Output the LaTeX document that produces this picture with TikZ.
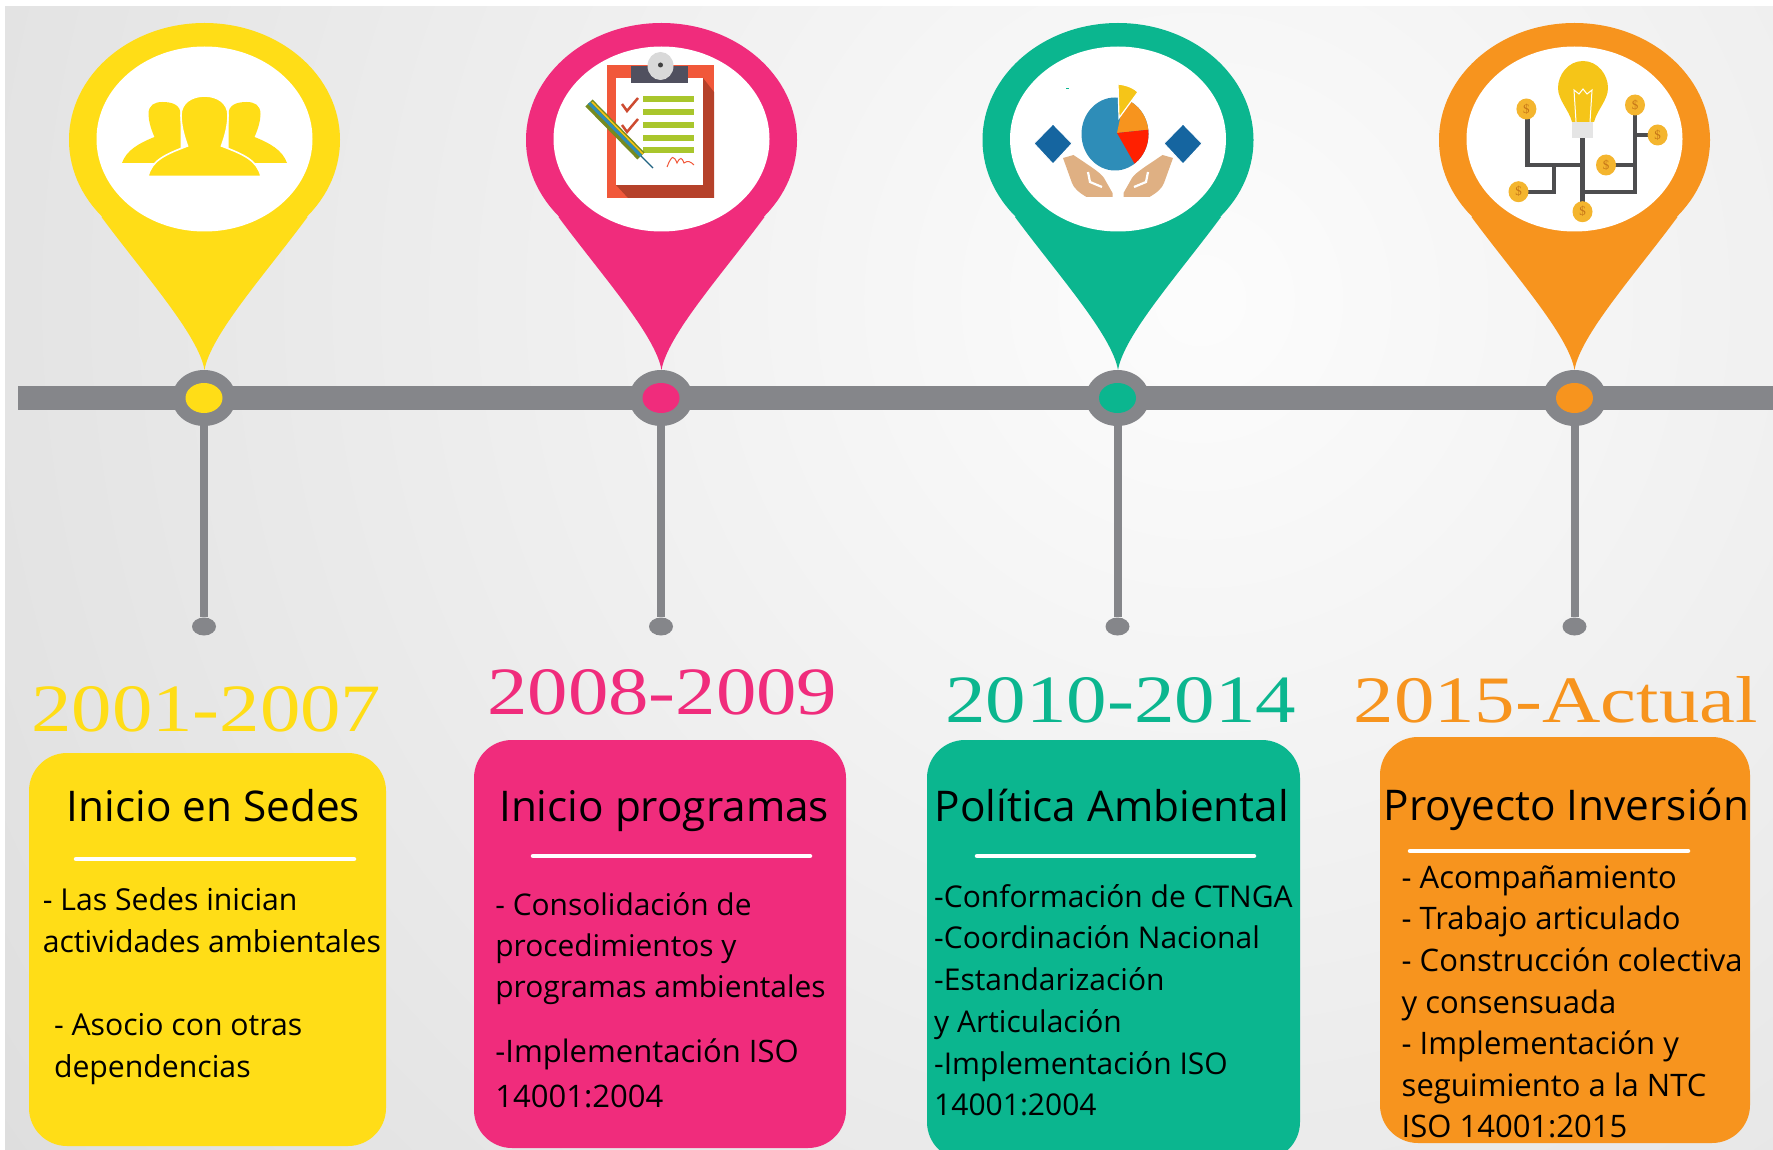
\documentclass[tikz,border=0pt]{standalone}
\usepackage{fontspec}
\usepackage{graphicx}
\usetikzlibrary{shapes.geometric}
\setmainfont{Open Sans}
\newfontfamily\bodyf{Open Sans}
\newfontfamily\yearf{Liberation Serif}
\definecolor{cy}{HTML}{FFDD17}
\definecolor{cp}{HTML}{F02C7C}
\definecolor{cg}{HTML}{0BB68F}
\definecolor{co}{HTML}{F7941E}
\definecolor{bar}{HTML}{85868A}
\definecolor{wire}{HTML}{4D4D4F}
\definecolor{coin}{HTML}{F4B52E}
\definecolor{boardc}{HTML}{F1583A}
\definecolor{boardd}{HTML}{B5412A}
\definecolor{clipc}{HTML}{50505F}
\definecolor{linec}{HTML}{A9C62C}
\definecolor{piec}{HTML}{2E8DB8}
\definecolor{diamc}{HTML}{1565A0}
\definecolor{handc}{HTML}{DFB083}
\definecolor{bulbc}{HTML}{F5C518}
\tikzset{
  hubnode/.style={ellipse,fill=bar,minimum width=64pt,minimum height=56pt,inner sep=0pt},
  dotnode/.style={ellipse,minimum width=37pt,minimum height=30pt,inner sep=0pt},
  endnode/.style={ellipse,fill=bar,minimum width=24pt,minimum height=18pt,inner sep=0pt},
  stem/.style={draw=bar,line width=8pt},
  cardbox/.style={rounded corners=38pt},
  sepline/.style={draw=white,line width=4.5pt,line cap=round},
  titletext/.style={anchor=base west,inner sep=0pt,font=\bodyf\fontsize{42.3}{42}\selectfont,text=black},
  bodytext/.style={anchor=north west,inner sep=0pt,align=left,text=black},
  yeartext/.style={anchor=south west,inner sep=0pt},
  coinmark/.style={ellipse,fill=coin,minimum width=20pt,minimum height=21pt,inner sep=0pt,text=co!80!black,font=\yearf\fontsize{13}{13}\selectfont}
}
\newcommand{\pinshape}[2]{%
  \begin{scope}[shift={(#1,0)}]
    \fill[#2] (0,140) ellipse [x radius=135.5pt,y radius=117pt];
    \fill[#2] (0,370) .. controls (-6,335) and (-60,275) .. (-103,217)
      -- (103,217) .. controls (60,275) and (6,335) .. (0,370) -- cycle;
    \fill[white] (0,139) ellipse [x radius=108pt,y radius=92.5pt];
  \end{scope}}
\newcommand{\bodyset}[2]{\bodyf\fontsize{#1}{#2}\selectfont}
\newcommand{\firstl}{\rule{0pt}{30pt}}
\begin{document}
\begin{tikzpicture}[x=1pt,y=-1pt]
\useasboundingbox (0,0) rectangle (1773,1150);
\fill[white] (0,0) rectangle (1773,1150);
\begin{scope}
  \clip (5,7) rectangle (1773,1150);
  \fill[black!13] (5,7) rectangle (1773,1150);
  \shade[inner color=black!1,outer color=black!13] (1200,300) circle [radius=1480pt];
\end{scope}

% timeline
\fill[bar] (18,386) rectangle (1773,410);
\foreach \n/\x/\c in {1/204/cy,2/661/cp,3/1117.5/cg,4/1574.5/co}{
  \coordinate (top\n) at (\x,398);
  \node[endnode] (end\n) at (\x,626.5) {};
  \draw[stem] (top\n) -- (end\n);
  \node[hubnode] (hub\n) at (\x,398) {};
  \node[dotnode,fill=\c] (dot\n) at (\x,398) {};
}
\pinshape{204.5}{cy}
\pinshape{661.5}{cp}
\pinshape{1118}{cg}
\pinshape{1574.5}{co}

% icon 1: people
\begin{scope}[shift={(204.5,0)}]
  \foreach \s in {1,-1}{
    \begin{scope}[xscale=\s]
      \fill[cy] (-82.5,163) .. controls (-78,150) and (-65,143) .. (-50,137)
        .. controls (-54,128) and (-56,120) .. (-56,114)
        .. controls (-56,105) and (-50,102) .. (-42,102)
        .. controls (-32,102) and (-24,105) .. (-24,114) -- (-24,150) -- (-30,163) -- cycle;
    \end{scope}}
  \fill[cy,draw=white,line width=1.6pt] (-56.5,176.5) .. controls (-53,160) and (-38,154) .. (-17,146)
    .. controls (-21,135) and (-23.5,125) .. (-23.5,115)
    .. controls (-23.5,103) and (-13,96) .. (0,96)
    .. controls (13,96) and (23.5,103) .. (23.5,115)
    .. controls (23.5,125) and (21,135) .. (17,146)
    .. controls (38,154) and (53,160) .. (56.5,176.5) -- cycle;
\end{scope}

% icon 2: clipboard
\fill[boardc] (607,65) rectangle (714,198);
\fill[boardd] (703,78) -- (714,92) -- (714,198) -- (628,198) -- (616,185) -- (703,185) -- cycle;
\fill[white] (616,78) rectangle (703,185);
\fill[clipc] (631,66) rectangle (688,83);
\fill[black!15] (660.5,66) ellipse [x radius=13pt,y radius=14pt];
\fill[black!75] (660.5,65) circle [radius=2.5pt];
\foreach \y in {99,112,125,138,150}{\fill[linec] (643,\y-3) rectangle (694,\y+3);}
\foreach \y in {107,128}{\draw[boardc!85!black,line width=2.5pt] (622,\y-3) -- (627,\y+4) -- (638,\y-9);}
\draw[linec!70!black,line width=10pt] (589,103) -- (641,156);
\draw[piec,line width=3pt] (589,103) -- (641,156);
\draw[bulbc,line width=1.5pt] (592,102) -- (643,154);
\draw[piec!70!black,line width=1.2pt] (641,156) -- (653,168);
\draw[boardc,line width=1pt] (667,167) .. controls (672,154) and (674,156) .. (677,163)
  .. controls (680,157) and (682,157) .. (684,163) .. controls (688,160) and (691,162) .. (694,165);

% icon 3: pie and hands
\begin{scope}[shift={(1118,0)}]
  \foreach \s in {1,-1}{
    \begin{scope}[xscale=\s]
      \fill[handc] (-55,158) -- (-44.5,155)
        .. controls (-30,165) and (-18,172) .. (-14,178) -- (-5.5,193) -- (-5.5,197) -- (-31.5,197)
        .. controls (-40,192) and (-44,188) .. (-46,183) -- cycle;
      \draw[white,line width=2.2pt] (-30,172) -- (-28,182) -- (-16,187);
      \fill[diamc,draw=white,line width=1pt] (-65,124) -- (-46,143.5) -- (-65,164) -- (-84,143.5) -- cycle;
    \end{scope}}
\end{scope}
\fill[cg] (1066,88) rectangle (1069,89);
\begin{scope}
  \clip (1115,134) ellipse [x radius=33.5pt,y radius=36.5pt];
  \fill[piec] (1070,90) rectangle (1160,180);
  \fill[co] (1117,133) -- (1126,90) -- (1165,90) -- (1165,128) -- cycle;
  \fill[red!75!orange] (1117,133) -- (1165,128) -- (1165,175) -- (1141,175) -- cycle;
\end{scope}
\fill[bulbc,draw=white,line width=1.2pt] (1118,84) .. controls (1127,85) and (1134,88) .. (1138,92) -- (1119,118) -- cycle;

% icon 4: bulb and circuit
\draw[wire,line width=4.5pt]
  (1582.5,138) -- (1582.5,203)
  (1527.5,113) -- (1527.5,165) -- (1582.5,165)
  (1553.8,165) -- (1553.8,192) -- (1519.5,192)
  (1635,110) -- (1635,192) -- (1582.5,192)
  (1635,135) -- (1656,135)
  (1606,165) -- (1635,165);
\fill[black!10] (1572,118) rectangle (1593,138);
\fill[bulbc] (1583,61) .. controls (1598,61) and (1608,75) .. (1608,88)
  .. controls (1608,100) and (1597,110) .. (1594,122) -- (1572,122)
  .. controls (1569,110) and (1558,100) .. (1558,88)
  .. controls (1558,75) and (1568,61) .. (1583,61) -- cycle;
\draw[white,line width=1pt] (1576,122) -- (1574,90) -- (1579,94) -- (1583,89) -- (1587,94) -- (1592,90) -- (1590,122);
\node[coinmark] (coina) at (1526.4,109) {\$};
\node[coinmark] (coinb) at (1635,105) {\$};
\node[coinmark] (coinc) at (1657.6,135) {\$};
\node[coinmark] (coind) at (1606,165) {\$};
\node[coinmark] (coine) at (1518.5,191.7) {\$};
\node[coinmark] (coinf) at (1582.5,211.7) {\$};

% years
\node[yeartext,text=cy] (y1) at (31,732) {\resizebox{350pt}{45pt}{\yearf 2001-2007}};
\node[yeartext,text=cp] (y2) at (487,715) {\resizebox{350pt}{45pt}{\yearf 2008-2009}};
\node[yeartext,text=cg] (y3) at (945,723.5) {\resizebox{351pt}{45pt}{\yearf 2010-2014}};
\node[yeartext,text=co] (y4) at (1353.5,723.5) {\resizebox{404pt}{46pt}{\yearf 2015-Actual}};

% cards
\fill[cy,cardbox] (29,753) rectangle (386,1146);
\fill[cp,cardbox] (474,740) rectangle (846,1148);
\fill[cg,cardbox] (927,740) rectangle (1300,1160);
\fill[co,cardbox] (1380,737) rectangle (1750,1143);

\node[titletext] (t1) at (66.5,821.7) {Inicio en Sedes};
\node[titletext] (t2) at (499,821.7) {Inicio programas};
\node[titletext] (t3) at (934.5,821.7) {Política Ambiental};
\node[titletext] (t4) at (1383.5,820) {Proyecto Inversión};

\coordinate (r1a) at (76,859); \coordinate (r1b) at (354,859);
\coordinate (r2a) at (533,856); \coordinate (r2b) at (810,856);
\coordinate (r3a) at (977,856); \coordinate (r3b) at (1254,856);
\coordinate (r4a) at (1410,851); \coordinate (r4b) at (1688,851);
\draw[sepline] (r1a) -- (r1b);
\draw[sepline] (r2a) -- (r2b);
\draw[sepline] (r3a) -- (r3b);
\draw[sepline] (r4a) -- (r4b);

\node[bodytext,font=\bodyset{30.2}{41.7}] (b1a) at (42.6,880.5) {\firstl - Las Sedes inician\\actividades ambientales};
\node[bodytext,font=\bodyset{30.2}{41.7}] (b1b) at (53.8,1005.5) {\firstl - Asocio con otras\\dependencias};
\node[bodytext,font=\bodyset{29.9}{41}] (b2a) at (495.2,885) {\firstl - Consolidación de\\procedimientos y\\programas ambientales};
\node[bodytext,font=\bodyset{31}{45}] (b2b) at (495.2,1032) {\firstl -Implementación ISO\\14001:2004};
\node[bodytext,font=\bodyset{30}{41.7}] (b3) at (934,877) {\firstl -Conformación de CTNGA\\-Coordinación Nacional\\-Estandarización\\y Articulación\\-Implementación ISO\\14001:2004};
\node[bodytext,font=\bodyset{31}{41.6}] (b4) at (1401.5,858) {\firstl - Acompañamiento\\- Trabajo articulado\\- Construcción colectiva\\y consensuada\\- Implementación y\\seguimiento a la NTC\\ISO 14001:2015};
\end{tikzpicture}
\end{document}
